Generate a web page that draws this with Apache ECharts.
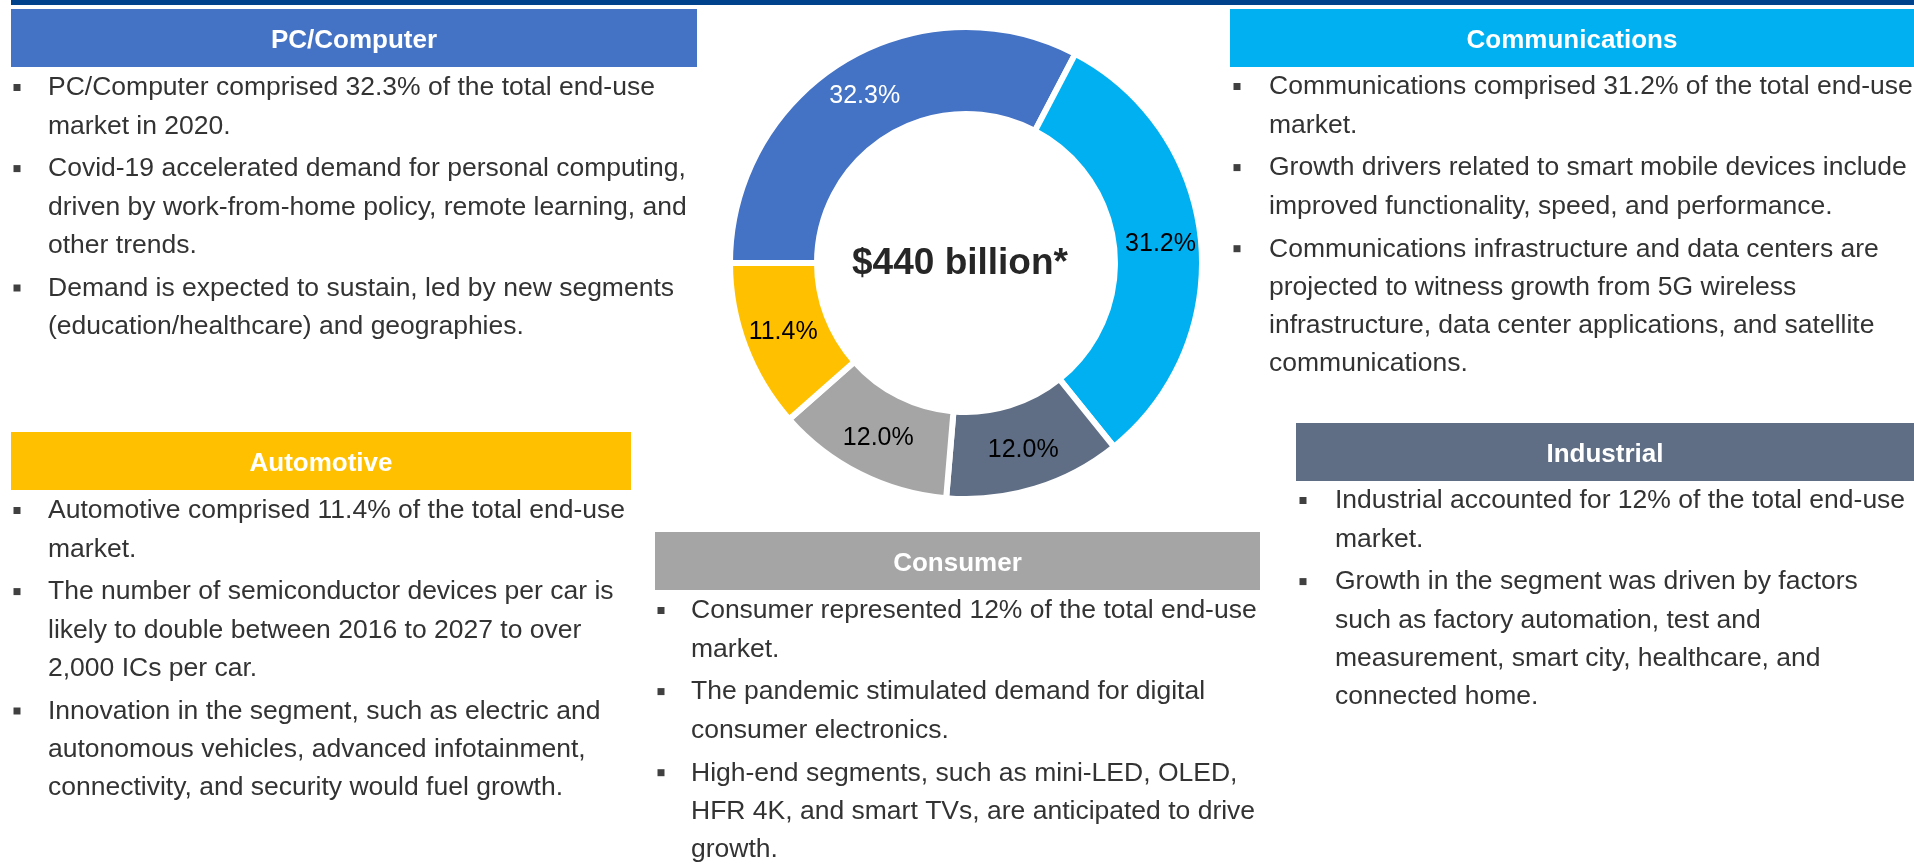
<!DOCTYPE html>
<html>
<head>
<meta charset="utf-8">
<title>End-use market</title>
<script src="https://cdn.jsdelivr.net/npm/echarts@6/dist/echarts.min.js"></script>
<style>
    html, body { margin: 0; padding: 0; background: #fff; }
    #main { width: 1914px; height: 864px; }
</style>
</head>
<body>
<div id="main"></div>
<script>
// 数据
var segments = ['PC/Computer', 'Communications', 'Industrial', 'Consumer', 'Automotive'];
var shares = [32.3, 31.2, 12.0, 12.0, 11.4];
var totalText = '$440 billion*';

var pcNotes = [
    ['PC/Computer comprised 32.3% of the total end-use', 'market in 2020.'],
    ['Covid-19 accelerated demand for personal computing,', 'driven by work-from-home policy, remote learning, and', 'other trends.'],
    ['Demand is expected to sustain, led by new segments', '(education/healthcare) and geographies.']
];
var commNotes = [
    ['Communications comprised 31.2% of the total end-use', 'market.'],
    ['Growth drivers related to smart mobile devices include', 'improved functionality, speed, and performance.'],
    ['Communications infrastructure and data centers are', 'projected to witness growth from 5G wireless', 'infrastructure, data center applications, and satellite', 'communications.']
];
var autoNotes = [
    ['Automotive comprised 11.4% of the total end-use', 'market.'],
    ['The number of semiconductor devices per car is', 'likely to double between 2016 to 2027 to over', '2,000 ICs per car.'],
    ['Innovation in the segment, such as electric and', 'autonomous vehicles, advanced infotainment,', 'connectivity, and security would fuel growth.']
];
var consumerNotes = [
    ['Consumer represented 12% of the total end-use', 'market.'],
    ['The pandemic stimulated demand for digital', 'consumer electronics.'],
    ['High-end segments, such as mini-LED, OLED,', 'HFR 4K, and smart TVs, are anticipated to drive', 'growth.']
];
var industrialNotes = [
    ['Industrial accounted for 12% of the total end-use', 'market.'],
    ['Growth in the segment was driven by factors', 'such as factory automation, test and', 'measurement, smart city, healthcare, and', 'connected home.']
];

// 颜色
var colors = {
    'PC/Computer': '#4472C4',
    'Communications': '#00B0F0',
    'Industrial': '#5F6E85',
    'Consumer': '#A5A5A5',
    'Automotive': '#FFC000'
};
var labelColors = ['#ffffff', '#000000', '#000000', '#000000', '#000000'];

var FONT = '"Liberation Sans", Arial, Helvetica, sans-serif';
var TEXT_COLOR = '#333333';

var chart = echarts.init(document.getElementById('main'));

// 文字块: 标题条 + 要点
function noteBlock(name, notes, box, textX, bulletX, firstY) {
    var els = [];
    els.push({
        type: 'rect',
        shape: { x: box[0], y: box[1], width: box[2], height: box[3] },
        style: { fill: colors[name] }
    });
    els.push({
        type: 'text',
        x: box[0] + box[2] / 2,
        y: box[1] + box[3] / 2 + 3,
        style: {
            text: name, fill: '#fff',
            font: 'bold 26px ' + FONT,
            textAlign: 'center', textVerticalAlign: 'middle',
            align: 'center', verticalAlign: 'middle'
        }
    });
    var y = firstY;
    notes.forEach(function (lines) {
        els.push({
            type: 'rect',
            shape: { x: bulletX - 3.5, y: y - 4, width: 7, height: 7 },
            style: { fill: '#404040' }
        });
        lines.forEach(function (line) {
            els.push({
                type: 'text',
                x: textX,
                y: y,
                style: {
                    text: line, fill: TEXT_COLOR,
                    font: '26.5px ' + FONT,
                    textAlign: 'left', textVerticalAlign: 'middle',
                    align: 'left', verticalAlign: 'middle'
                }
            });
            y += 38.3;
        });
        y += 4.5;
    });
    return els;
}

var graphics = [
    { type: 'rect', shape: { x: 11, y: 0, width: 1903, height: 5 }, style: { fill: '#00428C' } }
]
    .concat(noteBlock('PC/Computer', pcNotes, [11, 9, 686, 58], 48, 17, 88))
    .concat(noteBlock('Communications', commNotes, [1230, 9, 684, 58], 1269, 1237, 87))
    .concat(noteBlock('Automotive', autoNotes, [11, 432, 620, 58], 48, 17, 511))
    .concat(noteBlock('Consumer', consumerNotes, [655, 532, 605, 58], 691, 661, 611))
    .concat(noteBlock('Industrial', industrialNotes, [1296, 423, 618, 58], 1335, 1303, 501));

graphics.push({
    type: 'text',
    x: 960,
    y: 264,
    style: {
        text: totalText, fill: '#262626',
        font: 'bold 37px ' + FONT,
        textAlign: 'center', textVerticalAlign: 'middle',
        align: 'center', verticalAlign: 'middle'
    }
});

var option = {
    animation: false,
    textStyle: { fontFamily: FONT },
    graphic: graphics,
    series: [
        {
            type: 'pie',
            center: [966, 263],
            radius: [149, 236],
            startAngle: 180,
            clockwise: true,
            avoidLabelOverlap: false,
            itemStyle: {
                borderColor: '#fff',
                borderWidth: 6
            },
            label: {
                show: true,
                position: 'inside',
                fontSize: 25,
                formatter: function (p) {
                    return p.value.toFixed(1) + '%';
                }
            },
            labelLine: { show: false },
            emphasis: { disabled: true },
            data: segments.map(function (name, i) {
                return {
                    name: name,
                    value: shares[i],
                    itemStyle: { color: colors[name] },
                    label: { color: labelColors[i] }
                };
            })
        }
    ]
};

chart.setOption(option);
</script>
</body>
</html>
